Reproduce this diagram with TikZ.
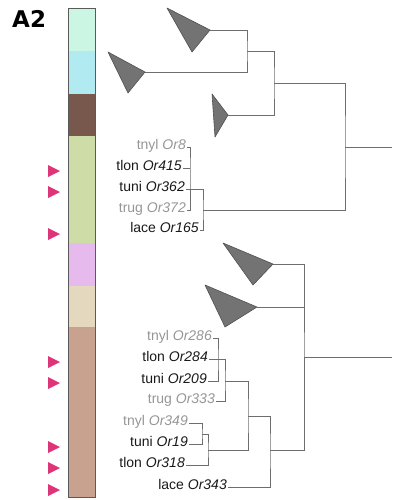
\documentclass[tikz,border=0pt]{standalone}
\usepackage{fontspec}
\setmainfont{Liberation Sans}
\newfontfamily\headfont{DejaVu Sans}
\usetikzlibrary{positioning}
\definecolor{barmint}{RGB}{204,246,228}
\definecolor{barsky}{RGB}{178,234,242}
\definecolor{barbrown}{RGB}{120,88,76}
\definecolor{bargreen}{RGB}{206,220,168}
\definecolor{barlilac}{RGB}{230,186,236}
\definecolor{barbeige}{RGB}{228,216,190}
\definecolor{bartan}{RGB}{200,162,142}
\definecolor{baredge}{RGB}{90,90,90}
\definecolor{markpink}{RGB}{222,52,120}
\definecolor{treegray}{RGB}{110,110,110}
\definecolor{cladegray}{RGB}{115,115,115}
\definecolor{cladeedge}{RGB}{80,80,80}
\definecolor{leafblack}{RGB}{25,25,25}
\definecolor{leafgray}{RGB}{150,150,150}
\tikzset{
  branch/.style={draw=treegray, line width=0.9pt},
  clade/.style={fill=cladegray, draw=cladeedge, line width=0.6pt, line join=round},
  leaf/.style={anchor=mid east, inner sep=1pt, font=\fontsize{14}{16}\selectfont, text=leafblack},
  dimleaf/.style={leaf, text=leafgray},
  marker/.style={fill=markpink}
}

\begin{document}
\begin{tikzpicture}[x=1pt,y=-1pt]
  \useasboundingbox (0,0) rectangle (392,500);

  \node[anchor=north west, inner sep=0pt, font=\headfont\bfseries\fontsize{23}{26}\selectfont] (title) at (12,10) {A2};

  % colour bar
  \foreach \ya/\yb/\barcol in {8/51/barmint, 51/94/barsky, 94/136/barbrown, 136/243/bargreen,
      243/286/barlilac, 286/327/barbeige, 327/497/bartan}
    \fill[\barcol] (68,\ya) rectangle (95,\yb);
  \draw[baredge, line width=0.8pt] (68,8) rectangle (95,497);

  \foreach \y in {171,192,234,362,383,447,468,490}
    \fill[marker] (48,\y-6) -- (60,\y) -- (48,\y+6) -- cycle;

  % upper clade
  \draw[clade] (167,8) -- (210,30) coordinate (t1) -- (192,52) -- cycle;
  \draw[clade] (108,52) -- (145,72) coordinate (t2) -- (128,93) -- cycle;
  \draw[clade] (212,94) -- (228,115) coordinate (t3) -- (215,137) -- cycle;

  \node[dimleaf] (or8) at (187,147) {tnyl \textit{Or8}};
  \node[leaf] (or415) at (183,168) {tlon \textit{Or415}};
  \node[leaf] (or362) at (186,189) {tuni \textit{Or362}};
  \node[dimleaf] (or372) at (187,210) {trug \textit{Or372}};
  \node[leaf] (or165) at (200,230) {lace \textit{Or165}};

  \coordinate (a1) at (190,168);
  \coordinate (a2) at (203,210);
  \coordinate (n1) at (247,51);
  \coordinate (n2) at (274,83);
  \coordinate (n3) at (345,147);
  \coordinate (r1) at (392,147);

  \draw[branch] (or8.mid east) -| (a1) |- (or372.mid east);
  \draw[branch] (or415.mid east) -- (a1);
  \draw[branch] (or362.mid east) -| (a2) |- (or165.mid east);
  \draw[branch] (t1) -| (n1) |- (t2);
  \draw[branch] (n1) -| (n2) |- (t3);
  \draw[branch] (n2) -| (n3) |- (a2);
  \draw[branch] (n3) -- (r1);

  % lower clade
  \draw[clade] (223,243) -- (273,264) coordinate (t4) -- (253,285) -- cycle;
  \draw[clade] (205,285) -- (257,307) coordinate (t5) -- (225,327) -- cycle;

  \node[dimleaf] (or286) at (213,338) {tnyl \textit{Or286}};
  \node[leaf] (or284) at (209,359) {tlon \textit{Or284}};
  \node[leaf] (or209) at (208,381) {tuni \textit{Or209}};
  \node[dimleaf] (or333) at (216,401) {trug \textit{Or333}};
  \node[dimleaf] (or349) at (189,423) {tnyl \textit{Or349}};
  \node[leaf] (or19) at (189,444) {tuni \textit{Or19}};
  \node[leaf] (or318) at (186,465) {tlon \textit{Or318}};
  \node[leaf] (or343) at (228,487) {lace \textit{Or343}};

  \coordinate (b0) at (218,360);
  \coordinate (b1) at (225,381);
  \coordinate (b3) at (248,416);
  \coordinate (b4) at (202,434);
  \coordinate (b2) at (208,450);
  \coordinate (m4) at (270,450);
  \coordinate (n4) at (304,357);
  \coordinate (r2) at (392,357);

  \draw[branch] (or286.mid east) -| (b0) |- (or209.mid east);
  \draw[branch] (or284.mid east) -| (b1) |- (or333.mid east);
  \draw[branch] (or349.mid east) -| (b4) |- (or19.mid east);
  \draw[branch] (b4) -| (b2) |- (or318.mid east);
  \draw[branch] (b1) -| (b3) |- (b2);
  \draw[branch] (b3) -| (m4) |- (or343.mid east);
  \draw[branch] (t4) -| (n4) |- (t5);
  \draw[branch] (n4) |- (m4);
  \draw[branch] (n4) -- (r2);

\end{tikzpicture}
\end{document}
